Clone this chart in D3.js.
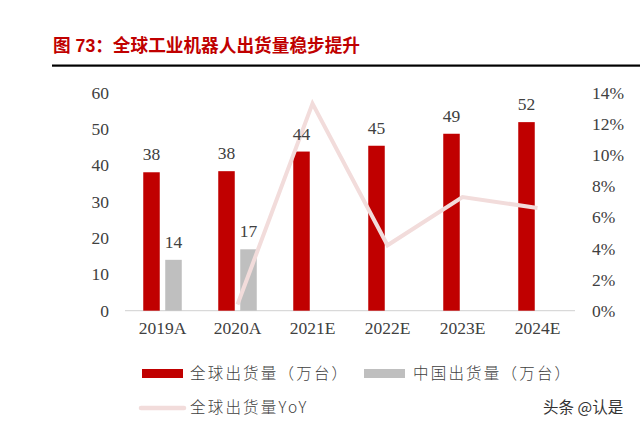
<!DOCTYPE html>
<html><head><meta charset="utf-8">
<script src="https://cdn.jsdelivr.net/npm/d3@7"></script>
<style>body{margin:0;background:#fff}svg{display:block}</style>
</head><body>
<svg id="c" width="640" height="428"></svg>
<script>
const categories = ["2019A","2020A","2021E","2022E","2023E","2024E"];
const globalShip = [38.1, 38.4, 43.8, 45.4, 48.7, 51.9];
const globalLabels = ["38","38","44","45","49","52"];
const chinaShip = [14.0, 16.9, null, null, null, null];
const chinaLabels = ["14","17","","","",""];
const yoy = [null, 0.004, 0.133, 0.042, 0.073, 0.066];
const leftTicks = [0,10,20,30,40,50,60];
const rightTicks = [0,0.02,0.04,0.06,0.08,0.10,0.12,0.14];

const svg = d3.select("#c");
const serif = "'Liberation Serif','Times New Roman',serif";
const cjk = "'Noto Sans CJK SC','Noto Sans',sans-serif";

// title
svg.append("text").attr("x",53).attr("y",52).attr("fill","#c00000")
  .attr("font-family","'Liberation Sans',Arial,"+cjk).attr("font-weight","bold").attr("font-size",18)
  .attr("textLength",307).attr("lengthAdjust","spacingAndGlyphs")
  .text("图 73：全球工业机器人出货量稳步提升");
svg.append("rect").attr("x",52).attr("y",64.5).attr("width",588).attr("height",2.2).attr("fill","#000");

const x = d3.scaleBand().domain(categories).range([125,575]);
const y = d3.scaleLinear().domain([0,60]).range([310.7,92.7]);
const y2 = d3.scaleLinear().domain([0,0.14]).range([310.7,92.7]);
const bw = 16.5;

// axis line
svg.append("line").attr("x1",125).attr("x2",575).attr("y1",310.7).attr("y2",310.7)
  .attr("stroke","#d9d9d9").attr("stroke-width",1.2);

// left axis
const gl = svg.append("g").attr("transform","translate(109,0)")
  .call(d3.axisLeft(y).tickValues(leftTicks).tickSize(0).tickPadding(0));
gl.select(".domain").remove();
gl.selectAll("text").attr("font-family",serif).attr("font-size",17.5).attr("fill","#404040");

// right axis
const gr = svg.append("g").attr("transform","translate(592,0)")
  .call(d3.axisRight(y2).tickValues(rightTicks).tickFormat(d3.format(".0%")).tickSize(0).tickPadding(0));
gr.select(".domain").remove();
gr.selectAll("text").attr("font-family",serif).attr("font-size",17.5).attr("fill","#404040");

// x axis labels
const gx = svg.append("g").attr("transform","translate(0,322)")
  .call(d3.axisBottom(x).tickSize(0).tickPadding(0));
gx.select(".domain").remove();
gx.selectAll("text").attr("font-family",serif).attr("font-size",17.5).attr("fill","#404040").attr("dy","0.71em");

const cx = d => x(d) + x.bandwidth()/2;

// global bars
svg.selectAll(".gb").data(categories).join("rect")
  .attr("x",(d,i)=>cx(d)-11-bw/2).attr("width",bw)
  .attr("y",(d,i)=>y(globalShip[i])).attr("height",(d,i)=>y(0)-y(globalShip[i]))
  .attr("fill","#c00000");

// china bars
const cdata = categories.map((c,i)=>({c,v:chinaShip[i],l:chinaLabels[i]})).filter(d=>d.v!=null);
svg.selectAll(".cb").data(cdata).join("rect")
  .attr("x",d=>cx(d.c)+11-bw/2).attr("width",bw)
  .attr("y",d=>y(d.v)).attr("height",d=>y(0)-y(d.v))
  .attr("fill","#bfbfbf");

// yoy line
const ldata = categories.map((c,i)=>({c,v:yoy[i]})).filter(d=>d.v!=null);
svg.append("path").datum(ldata)
  .attr("d",d3.line().x(d=>cx(d.c)).y(d=>y2(d.v)))
  .attr("fill","none").attr("stroke","#f2dcdb").attr("stroke-width",4).attr("stroke-linejoin","miter");

// labels on top
svg.selectAll(".gl").data(categories).join("text")
  .attr("x",d=>cx(d)-11).attr("y",(d,i)=>y(globalShip[i])-12)
  .attr("text-anchor","middle").attr("font-family",serif).attr("font-size",17.5).attr("fill","#404040")
  .text((d,i)=>globalLabels[i]);
svg.selectAll(".cl").data(cdata).join("text")
  .attr("x",d=>cx(d.c)+11).attr("y",d=>y(d.v)-12)
  .attr("text-anchor","middle").attr("font-family",serif).attr("font-size",17.5).attr("fill","#404040")
  .text(d=>d.l);

// legend
const lt = (xx,yy,t)=>svg.append("text").attr("x",xx).attr("y",yy).attr("font-family",cjk)
  .attr("font-size",15.5).attr("font-weight",300).attr("letter-spacing",2.2).attr("fill","#404040").text(t);
svg.append("rect").attr("x",142).attr("y",369).attr("width",41).attr("height",9).attr("fill","#c00000");
lt(190,379,"全球出货量（万台）");
svg.append("rect").attr("x",364).attr("y",369).attr("width",41).attr("height",9).attr("fill","#bfbfbf");
lt(413,379,"中国出货量（万台）");
svg.append("line").attr("x1",141).attr("x2",184).attr("y1",408).attr("y2",408)
  .attr("stroke","#f2dcdb").attr("stroke-width",4.5).attr("stroke-linecap","round");
lt(190,413,"全球出货量YoY");

// watermark
svg.append("text").attr("x",543).attr("y",413).attr("font-family",cjk).attr("font-size",15.5)
  .attr("fill","#333").text("头条 @认是");
</script>
</body></html>
